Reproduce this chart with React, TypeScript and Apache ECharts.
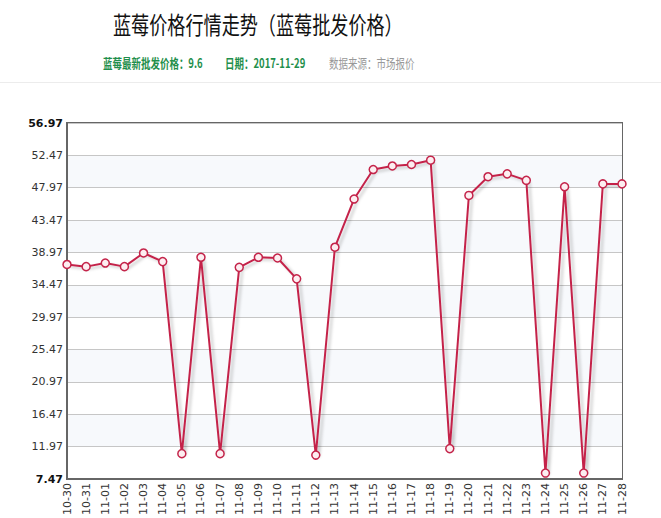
import React, { useRef, useEffect } from 'react'
import * as echarts from 'echarts'

const categories = [
  '10-30', '10-31', '11-01', '11-02', '11-03', '11-04', '11-05', '11-06',
  '11-07', '11-08', '11-09', '11-10', '11-11', '11-12', '11-13', '11-14',
  '11-15', '11-16', '11-17', '11-18', '11-19', '11-20', '11-21', '11-22',
  '11-23', '11-24', '11-25', '11-26', '11-27', '11-28',
]

const prices = [
  37.3, 37.0, 37.5, 37.0, 38.9, 37.7, 11.0, 38.3,
  11.0, 36.9, 38.3, 38.2, 35.3, 10.8, 39.7, 46.4,
  50.5, 51.0, 51.2, 51.8, 11.7, 46.9, 49.5, 49.9,
  49.0, 8.3, 48.1, 8.3, 48.5, 48.5,
]

const yMin = 7.47
const yMax = 56.97
const yStep = 4.5

const titleText = '蓝莓价格行情走势（蓝莓批发价格）'
const latestText = '蓝莓最新批发价格：9.6'
const dateText = '日期：2017-11-29'
const sourceText = '数据来源：市场报价'

const lineColor = '#c4244a'
const cjkFont = '"Noto Sans CJK SC", sans-serif'
const axisFont = '"DejaVu Sans", Verdana, sans-serif'

export default function App() {
  const containerRef = useRef<HTMLDivElement>(null)

  useEffect(() => {
    if (!containerRef.current) return
    const chart = echarts.init(containerRef.current, undefined, { renderer: 'svg' })

    const subText = (x: number, text: string, bold: boolean, fill: string) => ({
      type: 'text',
      x,
      y: 62,
      scaleX: 0.73,
      style: {
        text,
        font: `${bold ? 'bold ' : ''}13px ${cjkFont}`,
        fill,
        textAlign: 'left',
        textVerticalAlign: 'middle',
      },
    })

    chart.setOption({
      animation: false,
      backgroundColor: '#fff',
      graphic: [
        {
          type: 'text',
          x: 113,
          y: 23,
          scaleX: 0.755,
          style: {
            text: titleText,
            font: `24px ${cjkFont}`,
            fill: '#111',
            textAlign: 'left',
            textVerticalAlign: 'middle',
          },
        },
        subText(103, latestText, true, '#1f8f4c'),
        subText(225, dateText, true, '#1f8f4c'),
        subText(329, sourceText, false, '#999'),
        {
          type: 'line',
          shape: { x1: 0, y1: 82.5, x2: 661, y2: 82.5 },
          style: { stroke: '#ececec', lineWidth: 1 },
        },
      ],
      grid: {
        left: 67,
        top: 123,
        width: 555,
        height: 359,
        show: true,
        borderColor: '#666',
        borderWidth: 2,
        backgroundColor: 'transparent',
      },
      xAxis: {
        type: 'category',
        data: categories,
        boundaryGap: false,
        axisLine: { lineStyle: { color: '#666', width: 2 } },
        axisTick: { show: false },
        axisLabel: {
          interval: 0,
          rotate: 90,
          margin: 4,
          color: '#333',
          fontSize: 11,
          fontFamily: axisFont,
        },
        splitLine: { show: false },
      },
      yAxis: {
        type: 'value',
        min: yMin,
        max: yMax,
        interval: yStep,
        axisLine: { show: true, lineStyle: { color: '#666', width: 2 } },
        axisTick: { show: false },
        axisLabel: {
          margin: 4,
          color: '#333',
          fontSize: 11,
          fontFamily: axisFont,
          formatter: (v: number) => {
            const s = v.toFixed(2)
            return Math.abs(v - yMin) < 0.001 || Math.abs(v - yMax) < 0.001
              ? `{b|${s}}`
              : s
          },
          rich: {
            b: {
              fontWeight: 'bold',
              color: '#111',
              fontSize: 11,
              fontFamily: axisFont,
            },
          },
        },
        splitLine: { lineStyle: { color: '#c6c6c6', width: 1 } },
        splitArea: { show: true, areaStyle: { color: ['#ffffff', '#f7f9fc'] } },
      },
      series: [
        {
          type: 'line',
          data: prices,
          symbol: 'circle',
          symbolSize: 8,
          showAllSymbol: true,
          lineStyle: {
            color: lineColor,
            width: 2,
            shadowColor: 'rgba(0,0,0,0.22)',
            shadowBlur: 3,
            shadowOffsetX: 3,
            shadowOffsetY: 2,
          },
          itemStyle: {
            color: '#fdeef1',
            borderColor: lineColor,
            borderWidth: 1.5,
          },
          z: 3,
        },
      ],
    })

    return () => {
      chart.dispose()
    }
  }, [])

  return (
    <div
      ref={containerRef}
      style={{ position: 'absolute', left: 0, top: 0, width: 661, height: 518 }}
    />
  )
}
